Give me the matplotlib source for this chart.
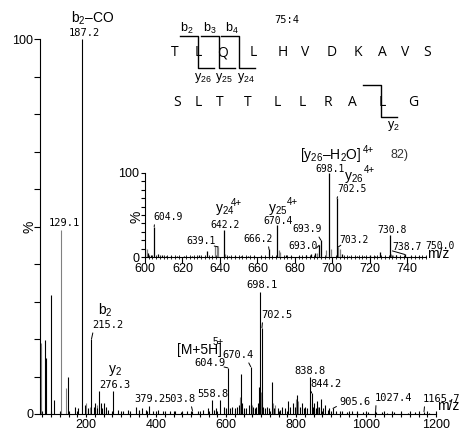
import matplotlib
matplotlib.use("Agg")
import matplotlib.pyplot as plt
from matplotlib.lines import Line2D
from matplotlib.ticker import MultipleLocator, FixedLocator
from matplotlib.transforms import Bbox

plt.rcParams['font.family'] = 'Liberation Sans'
plt.rcParams['mathtext.fontset'] = 'custom'
plt.rcParams['mathtext.rm'] = 'Liberation Sans'
plt.rcParams['mathtext.default'] = 'rm'

W, H = 462, 428
NUM = 'DejaVu Sans Mono'

# full MS/MS spectrum (m/z, relative intensity %)
main_mz = [69, 82, 85, 99.4, 109, 147, 168, 176, 187.2, 196, 205, 215.2, 222, 225, 230,
           237, 241, 246, 250, 256, 262, 276.3, 290, 305, 320, 342, 352, 360, 370, 379.2,
           392, 405, 420, 440, 455, 470, 488, 503.8, 520, 535, 548, 558.8, 566, 572, 583,
           594, 600, 604.9, 612, 616, 624, 630, 636, 642.2, 646, 652, 658, 666.2, 670.4,
           676, 682, 686, 690, 693.9, 698.1, 702.5, 706, 712, 718, 724, 730.8, 736, 748,
           754, 760, 768, 776, 784, 790, 796, 802, 810, 816, 822, 826, 832, 838.8, 844.2,
           848, 852, 856, 860, 866, 871, 877, 883, 890, 895, 905.6, 915, 930, 945, 960,
           975, 990, 1005, 1027.4, 1045, 1060, 1080, 1100, 1120, 1140, 1165.7, 1180]
main_int = [4.5, 19.7, 15, 31.7, 3.7, 10, 2, 1.5, 100, 2.5, 1.5, 20, 2, 3, 1.5,
            6.2, 3, 1.5, 3, 2, 1, 6.2, 1, 0.8, 1, 2, 1, 1.5, 1, 2.2,
            0.8, 1, 0.8, 0.7, 0.8, 0.6, 0.7, 0.9, 0.8, 1, 1.5, 3.7, 1, 1.5, 3.7,
            2, 1.5, 12.3, 1.5, 2, 1.5, 2, 2.5, 10.7, 3, 1.5, 1.5, 2.5, 12.6,
            2, 1.5, 2, 3, 7.2, 32.5, 23, 2, 1.5, 2, 1.5, 8.5, 1.5, 1.5,
            1, 2, 1.5, 3.5, 2, 3, 2, 5, 2, 3, 1.5, 2, 1.5, 10, 5.6,
            2, 3, 1.5, 3.5, 2, 4, 1.5, 2.5, 1.2, 1.5, 1.5, 0.8, 0.7, 0.6, 0.8,
            0.5, 0.6, 0.5, 0.6, 0.5, 0.4, 0.5, 0.4, 0.4, 0.5, 0.6, 0.4]
main_gray_mz = [70, 71.5, 129.1, 141, 200, 210, 232, 639.5, 641, 672, 674, 696, 699.5,
                704, 733, 740, 799, 800.5, 806, 841, 862]
main_gray_int = [19, 18, 49, 7, 3, 2, 2.5, 4.6, 4, 3, 2.5, 5, 6, 4, 3, 2.5, 4, 3, 3.5, 3, 2]

# zoomed region 600-750
inset_mz = [601.8, 603, 604.9, 607, 609, 611, 614, 617, 621, 625, 629, 633.3, 636, 642.2,
            645, 648, 651, 655, 658, 662, 666.2, 670.4, 675, 678, 682, 686, 688.8, 690.5,
            693.0, 693.9, 698.1, 702.5, 705, 709, 713, 717, 720, 723, 725.5, 730.8, 734,
            738.7, 742, 746, 750]
inset_int = [5, 2, 36, 3, 2, 1.5, 1, 1, 1, 1, 2, 7.5, 1.5, 32,
             1.5, 1, 1.5, 1.5, 1, 1.5, 9, 38, 2, 1.5, 1, 2, 3, 5,
             14, 20, 100, 70, 3, 1.5, 1, 1.5, 2, 1.5, 6, 26, 2,
             3, 1.5, 1, 1.5]
inset_gray_mz = [600.2, 601, 637.6, 638.4, 639.1, 642.8, 671.3, 672.1, 692, 696.5, 699.2,
                 703.2, 703.9, 731.5, 732.3]
inset_gray_int = [11, 10, 13, 13, 12, 4, 8, 6, 5, 8, 10, 12, 10, 3, 2]

seq_row1 = list("TLQLHVDKAVS")
seq_row2 = list("SLTTLLRALG")


def px(x, y):
    return x / W, 1 - y / H


def label(ax, txt, lpos, peak=None, rel=(0, 0), size=7.5, font=NUM, **kw):
    if peak is None:
        ax.text(lpos[0], lpos[1], txt, ha='center', va='center', fontsize=size,
                family=font, **kw)
    else:
        ax.annotate(txt, xy=peak, xytext=lpos, ha='center', va='center', fontsize=size,
                    family=font, arrowprops=dict(arrowstyle='-', lw=0.7, color='k',
                                                 shrinkA=0, shrinkB=0, relpos=rel), **kw)


fig = plt.figure(figsize=(W / 100, H / 100), dpi=100)

# ---- main spectrum
ax = fig.add_axes([40 / W, 14 / H, 396 / W, 375 / H])
ax.vlines(main_gray_mz, 0, main_gray_int, colors='#808080', lw=0.8)
ax.vlines(main_mz, 0, main_int, colors='black', lw=0.8)
ax.set_xlim(68, 1200)
ax.set_ylim(0, 100)
for s in ['top', 'right']:
    ax.spines[s].set_visible(False)
for s in ['left', 'bottom']:
    ax.spines[s].set_linewidth(0.8)
ax.xaxis.set_major_locator(MultipleLocator(200))
ax.xaxis.set_minor_locator(MultipleLocator(25))
ax.yaxis.set_major_locator(FixedLocator([0, 100]))
ax.yaxis.set_minor_locator(MultipleLocator(10))
ax.tick_params(axis='x', which='both', direction='inout', length=5, width=0.8,
               labelsize=9, pad=1)
ax.tick_params(axis='y', which='both', direction='out', length=4, width=0.8,
               labelsize=9, pad=1)
ax.text(1.002, 0.02, 'm/z', transform=ax.transAxes, fontsize=10, ha='left', va='center')
ax.text(-0.027, 0.50, '%', transform=ax.transAxes, fontsize=10, rotation=90,
        ha='center', va='center')

label(ax, 'b$_2$–CO', (219, 105.6), size=10, font='Liberation Sans')
label(ax, '187.2', (193.7, 101.6))
label(ax, '129.1', (136.6, 50.9))
label(ax, 'b$_2$', (253.7, 27.7), size=10, font='Liberation Sans')
label(ax, '215.2', (260.9, 23.7), peak=(215.2, 20), rel=(0.05, 0))
label(ax, 'y$_2$', (282, 11.5), size=10, font='Liberation Sans')
label(ax, '276.3', (282, 7.7))
label(ax, '379.2', (382, 4))
label(ax, '503.8', (468, 4), peak=(503.8, 0.9), rel=(0.85, 0))
label(ax, '558.8', (562, 5.3))
label(ax, '[M+5H]', (525, 17), size=10, font='Liberation Sans')
label(ax, '5+', (578, 19.3), size=7, font='Liberation Sans')
label(ax, '604.9', (554, 13.6), peak=(604.9, 12.3), rel=(0.95, 0.1))
label(ax, '670.4', (634, 15.7), peak=(670.4, 12.6), rel=(0.8, 0))
label(ax, '698.1', (702, 34.4))
label(ax, '702.5', (745, 26.4), peak=(702.5, 23), rel=(0.05, 0.1))
label(ax, '838.8', (839, 11.5))
label(ax, '844.2', (885, 8), peak=(844.2, 5.6), rel=(0.05, 0.1))
label(ax, '905.6', (968, 3.2), peak=(905.6, 1.5), rel=(0, 0.2))
label(ax, '1027.4', (1077, 4.3), peak=(1027.4, 0.6), rel=(0.05, 0))
label(ax, '1165.7', (1216, 4), peak=(1165.7, 0.6), rel=(0.05, 0))

# ---- zoomed inset 600-750
ai = fig.add_axes([145 / W, (H - 257) / H, 281 / W, 84 / H])
ai.patch.set_alpha(0)
ai.vlines(inset_gray_mz, 0, inset_gray_int, colors='#808080', lw=0.9)
ai.vlines(inset_mz, 0, inset_int, colors='black', lw=0.9)
ai.set_xlim(600, 750)
ai.set_ylim(0, 100)
for s in ['top', 'right']:
    ai.spines[s].set_visible(False)
for s in ['left', 'bottom']:
    ai.spines[s].set_linewidth(0.8)
ai.xaxis.set_major_locator(FixedLocator(range(600, 741, 20)))
ai.xaxis.set_minor_locator(MultipleLocator(2))
ai.yaxis.set_major_locator(FixedLocator([0, 100]))
ai.yaxis.set_minor_locator(MultipleLocator(10))
ai.tick_params(axis='x', which='major', direction='out', length=4, width=0.8,
               labelsize=9, pad=0)
ai.tick_params(axis='x', which='minor', direction='inout', length=3, width=0.6)
ai.tick_params(axis='y', which='both', direction='out', length=3, width=0.8,
               labelsize=9, pad=1)
ai.text(1.003, 0.03, 'm/z', transform=ai.transAxes, fontsize=10, ha='left', va='center')
ai.text(-0.032, 0.48, '%', transform=ai.transAxes, fontsize=10, rotation=90,
        ha='center', va='center')

label(ai, '604.9', (612.3, 47.6), peak=(604.9, 36), rel=(0.05, 0.1), size=7)
label(ai, 'y$_{24}$', (642.7, 56), size=10, font='Liberation Sans')
label(ai, '4+', (649, 64), size=7, font='Liberation Sans')
label(ai, '642.2', (642.7, 38), size=7)
label(ai, '639.1', (629.9, 19), peak=(639.1, 12), rel=(0.95, 0), size=7)
label(ai, '666.2', (660.3, 21.4), peak=(666.2, 9), rel=(0.85, 0), size=7)
label(ai, 'y$_{25}$', (671, 56), size=10, font='Liberation Sans')
label(ai, '4+', (678.5, 65.5), size=7, font='Liberation Sans')
label(ai, '670.4', (671, 43), size=7)
label(ai, '693.9', (686.5, 33), peak=(693.9, 20), rel=(0.85, 0), size=7)
label(ai, '693.0', (684.4, 13), peak=(693.0, 14), rel=(0.95, 0.3), size=7)
label(ai, '698.1', (698.8, 105), size=7)
label(ai, 'y$_{26}$', (711.6, 95), size=10, font='Liberation Sans')
label(ai, '4+', (720, 103.6), size=7, font='Liberation Sans')
label(ai, '702.5', (710.5, 81), peak=(702.5, 70), rel=(0.05, 0), size=7)
label(ai, '703.2', (711.6, 20), peak=(703.2, 12), rel=(0.05, 0), size=7)
label(ai, '730.8', (731.9, 32), size=7)
label(ai, '738.7', (739.9, 12), peak=(738.7, 3), rel=(0.0, 0.1), size=7)
label(ai, '750.0', (757.5, 13), size=7)
label(ai, '[y$_{26}$–H$_2$O]', (699.3, 121), size=10, font='Liberation Sans')
label(ai, '4+', (719, 127), size=7, font='Liberation Sans')
label(ai, '82)', (736, 121), size=9, font='Liberation Sans', color='#333333')

# ---- peptide sequence with fragment brackets
row1_x = [175, 198, 223, 253, 283, 305, 332, 358, 382, 405, 427]
row2_x = [177, 198, 220, 248, 277, 302, 328, 352, 382, 413]
for ch, x in zip(seq_row1, row1_x):
    t = fig.text(*px(x, 53), ch, fontsize=10, family='Open Sans', ha='center',
                 va='center')
    t.set_clip_on(True)
    t.set_clip_box(Bbox.from_extents(0, 0, 431, H))
for ch, x in zip(seq_row2, row2_x):
    fig.text(*px(x, 103), ch, fontsize=10, family='Open Sans', ha='center', va='center')

fig.text(*px(287, 20), '75:4', fontsize=7.5, family=NUM, ha='center', va='center')


def bracket(xm, top, bot, left, right):
    xs = [xm - left, xm, xm, xm + right]
    ys = [top, top, bot, bot]
    fx = [x / W for x in xs]
    fy = [1 - y / H for y in ys]
    fig.add_artist(Line2D(fx, fy, transform=fig.transFigure, color='black', lw=1.0))


for xm in [198.3, 219.3, 239]:
    bracket(xm, 36, 68, 18, 15.5)
bracket(380.7, 85, 117, 18, 16.5)

for txt, x in zip(['b$_2$', 'b$_3$', 'b$_4$'], [187, 210, 232]):
    fig.text(*px(x, 28), txt, fontsize=9, ha='center', va='center')
for txt, x in zip(['y$_{26}$', 'y$_{25}$', 'y$_{24}$'], [203, 224, 246]):
    fig.text(*px(x, 78), txt, fontsize=9, ha='center', va='center')
fig.text(*px(393, 126), 'y$_2$', fontsize=9, ha='center', va='center')

fig.savefig('out.png', dpi=100)
